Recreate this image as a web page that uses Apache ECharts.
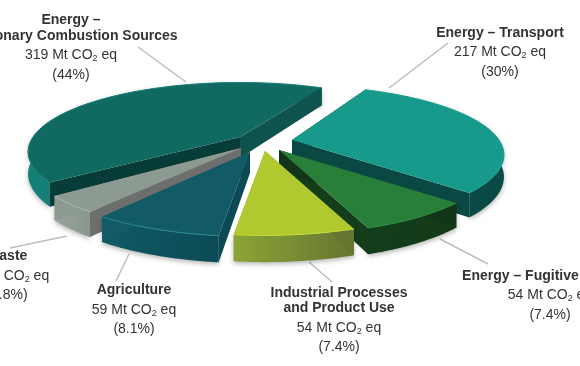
<!DOCTYPE html>
<html>
<head>
<meta charset="utf-8">
<style>
  html, body { margin: 0; padding: 0; background: #fff; overflow: hidden; }
  #chart { width: 580px; height: 366px; }
</style>
<script src="https://cdn.jsdelivr.net/npm/echarts@6/dist/echarts.min.js"></script>
</head>
<body>
<div id="chart"></div>
<script>
// 数据
const categories = ['Energy – Stationary Combustion Sources', 'Waste', 'Agriculture', 'Industrial Processes and Product Use', 'Energy – Fugitive Sources', 'Energy – Transport']
const values = [319, 20, 59, 54, 54, 217]
const percents = ['44%', '2.8%', '8.1%', '7.4%', '7.4%', '30%']
const titleLines = [
  ['Energy –', 'Stationary Combustion Sources'],
  ['Waste'],
  ['Agriculture'],
  ['Industrial Processes', 'and Product Use'],
  ['Energy – Fugitive Sources'],
  ['Energy – Transport'],
]

// 饼图投影参数
const R = 207
const TILT = 0.32
const PERSP = 0.215
const DEPTH = 21
const START_ANGLE = 65
const apex = [[240, 137], [241, 148], [250, 152], [265, 151], [279, 150], [292, 140]]
const angleNudge = [[-3, -7], [-5, -1], [0, 0], [0, 0], [0, 0], [0, 0]] // 原图扇区角度略有偏差
const drawOrder = [0, 5, 1, 2, 4, 3] // back to front

const sliceColors = [
  { top: '#106a62', arc: ['#148077', '#0c655e'], startWall: '#0e534d', endWall: '#083c38', edge: '#1a8278' },
  { top: '#8d9a91', arc: ['#98a39c', '#8a958e'], startWall: '#8d9a91', endWall: '#6c6f6d', edge: '#b5beb8' },
  { top: '#125a66', arc: ['#105a66', '#0c4a54'], startWall: '#125a66', endWall: '#0b4a54', edge: '#2a8a94' },
  { top: '#afc92f', arc: ['#8ba436', '#66752f'], startWall: '#8ba436', endWall: '#66752f', edge: '#c6dc3a' },
  { top: '#277f3a', arc: ['#123d1b', '#163a18'], startWall: '#143d1a', endWall: '#12351a', edge: '#2f8c42' },
  { top: '#179a8c', arc: ['#0b4d48', '#0a4a46'], startWall: '#0a4844', endWall: '#0a4844', edge: '#1ba596' },
]

// 文字位置 x, 各行 y
const labelPos = [
  { x: 71, y: [20, 36, 55, 75] },
  { x: 7, y: [256, 276, 295] },
  { x: 134, y: [290, 310, 329] },
  { x: 339, y: [293, 308, 328, 347] },
  { x: 550, y: [276, 295, 315] },
  { x: 500, y: [33, 52, 72] },
]
const leaderLines = [
  [138, 47, 186, 82],
  [10, 248, 67, 236],
  [116, 281, 129, 254],
  [309, 262, 332, 282],
  [440, 239, 488, 264],
  [448, 43, 389, 88],
]

const total = values.reduce((a, b) => a + b, 0)

function project(a, u, v, h = 0) {
  const k = 1 / (1 - PERSP * v)
  return [a[0] + R * u * k, a[1] + R * TILT * v * k + h * k]
}

function renderSlice(params, api) {
  const i = params.dataIndex
  let before = 0
  for (let n = 0; n < i; n++) before += values[n]
  const a0 = START_ANGLE + before / total * 360 + angleNudge[i][0]
  const a1 = START_ANGLE + (before + api.value(0)) / total * 360 + angleNudge[i][1]
  const a = apex[i]
  const c = sliceColors[i]
  const z = drawOrder.indexOf(i) * 10

  const topArc = []
  const lowArc = []
  const steps = 48
  for (let s = 0; s <= steps; s++) {
    const t = (a0 + (a1 - a0) * s / steps) * Math.PI / 180
    topArc.push(project(a, Math.cos(t), -Math.sin(t)))
    lowArc.push(project(a, Math.cos(t), -Math.sin(t), DEPTH))
  }
  const apexLow = [a[0], a[1] + DEPTH]
  const poly = (points, fill, zz, extra) => ({
    type: 'polygon',
    z2: z + zz,
    shape: { points },
    style: { fill, ...extra },
  })
  return {
    type: 'group',
    children: [
      poly(topArc.concat(lowArc.slice().reverse()), {
        type: 'linear', x: 0, y: 0, x2: 1, y2: 0,
        colorStops: [{ offset: 0, color: c.arc[0] }, { offset: 1, color: c.arc[1] }],
      }, 0, { shadowBlur: 5, shadowColor: 'rgba(0,0,0,0.3)', shadowOffsetY: 2 }),
      poly([a, topArc[0], lowArc[0], apexLow], c.startWall, 1),
      poly([a, topArc[steps], lowArc[steps], apexLow], c.endWall, 2),
      poly([a].concat(topArc), c.top, 3),
      { type: 'polyline', z2: z + 4, shape: { points: topArc }, style: { fill: null, stroke: c.edge, lineWidth: 1 } },
    ],
  }
}

const textColor = '#333333'
const labelGraphics = []
labelPos.forEach((p, i) => {
  const lines = titleLines[i]
  lines.forEach((line, n) => {
    labelGraphics.push({
      type: 'text', x: p.x, y: p.y[n],
      style: { text: line, fontFamily: 'Liberation Sans', fontSize: 14, fontWeight: 'bold', fill: textColor, align: 'center', verticalAlign: 'middle' },
    })
  })
  labelGraphics.push({
    type: 'text', x: p.x, y: p.y[lines.length],
    style: {
      text: `${values[i]} Mt CO{sub|2} eq`,
      fontFamily: 'Liberation Sans', fontSize: 14, fill: textColor, align: 'center', verticalAlign: 'middle',
      rich: { sub: { fontFamily: 'Liberation Sans', fontSize: 9, fill: textColor, padding: [7, 0, 0, 0] } },
    },
  })
  labelGraphics.push({
    type: 'text', x: p.x, y: p.y[lines.length + 1],
    style: { text: `(${percents[i]})`, fontFamily: 'Liberation Sans', fontSize: 14, fill: textColor, align: 'center', verticalAlign: 'middle' },
  })
})
const lineGraphics = leaderLines.map(l => ({
  type: 'line',
  shape: { x1: l[0], y1: l[1], x2: l[2], y2: l[3] },
  style: { stroke: '#bdbdbd', lineWidth: 1.5 },
}))

const chart = echarts.init(document.getElementById('chart'))
chart.setOption({
  backgroundColor: '#fff',
  animation: false,
  graphic: lineGraphics.concat(labelGraphics),
  series: [
    {
      type: 'custom',
      coordinateSystem: 'none',
      renderItem: renderSlice,
      data: values.map((v, i) => ({ name: categories[i], value: [v] })),
    },
  ],
})
</script>
</body>
</html>
